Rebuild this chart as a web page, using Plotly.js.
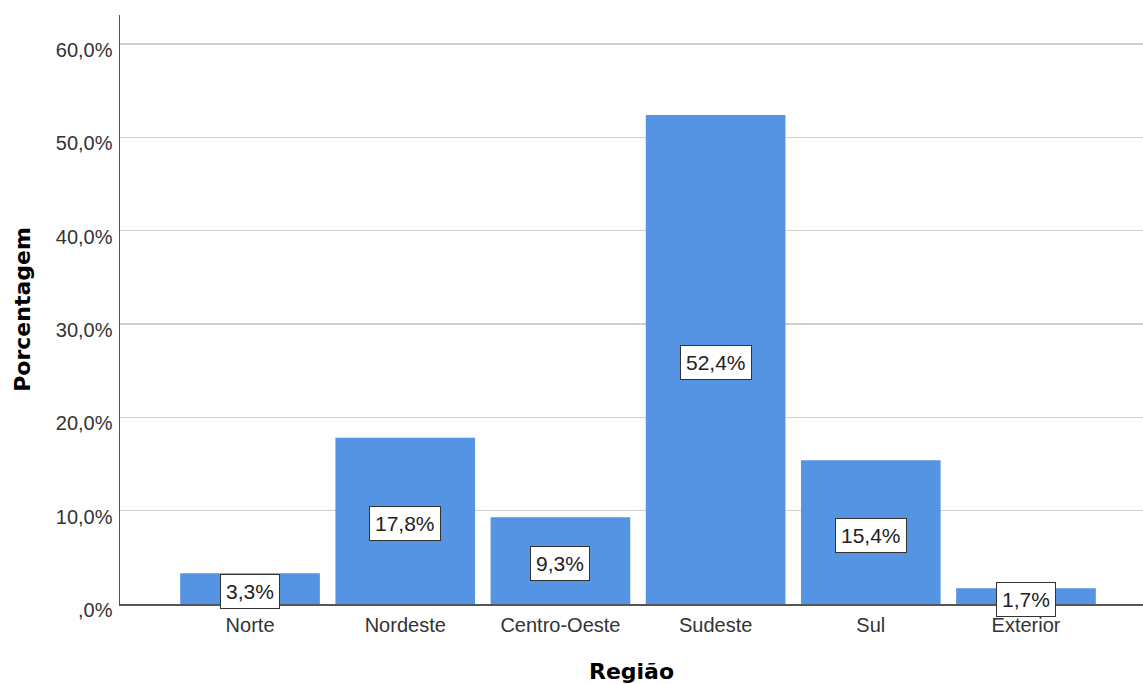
<!DOCTYPE html>
<html>
<head>
<meta charset="utf-8">
<script src="https://cdn.plot.ly/plotly-3.0.1.min.js"></script>
<style>
  html, body { margin: 0; padding: 0; background: #ffffff; }
  #chart { width: 1143px; height: 684px; }
</style>
</head>
<body>
<div id="chart"></div>
<script>
// Distribution of respondents by region (percent)
const regions = ['Norte', 'Nordeste', 'Centro-Oeste', 'Sudeste', 'Sul', 'Exterior'];
const percents = [3.3, 17.8, 9.3, 52.4, 15.4, 1.7];

// Y axis ticks
const yTickValues = [0, 10, 20, 30, 40, 50, 60];
const yTickLabels = [',0%', '10,0%', '20,0%', '30,0%', '40,0%', '50,0%', '60,0%'];

const positions = regions.map((_, i) => i);
const fmtPct = v => v.toFixed(1).replace('.', ',') + '%';

const barTrace = {
  type: 'bar',
  x: positions,
  y: percents,
  width: 0.9,
  marker: { color: '#5594e2', line: { width: 0 } },
  hoverinfo: 'skip'
};

// Boxed value labels centred in each bar
const valueLabels = percents.map((v, i) => ({
  x: i,
  y: v / 2,
  xref: 'x',
  yref: 'y',
  yshift: -3,
  text: fmtPct(v),
  showarrow: false,
  font: { family: 'Liberation Sans, Arial, sans-serif', size: 21, color: '#222222' },
  bgcolor: '#ffffff',
  bordercolor: '#333333',
  borderwidth: 1,
  borderpad: 5
}));

const layout = {
  width: 1143,
  height: 684,
  margin: { l: 120, r: 0, t: 15, b: 80 },
  paper_bgcolor: '#ffffff',
  plot_bgcolor: '#ffffff',
  showlegend: false,
  font: { family: 'Liberation Sans, Arial, sans-serif', color: '#333333' },
  xaxis: {
    range: [-0.838, 5.754],
    tickvals: positions,
    ticktext: regions,
    tickfont: { size: 20, color: '#333333' },
    ticks: '',
    ticklabelstandoff: 2,
    showgrid: false,
    zeroline: false,
    showline: true,
    linecolor: '#555555',
    linewidth: 1.5,
    automargin: false,
    title: {
      text: 'Região',
      font: { family: 'DejaVu Sans, sans-serif', size: 22, color: '#000000', weight: 'bold' },
      standoff: 30
    }
  },
  yaxis: {
    range: [0, 63.1],
    tickvals: yTickValues,
    ticktext: yTickLabels,
    tickfont: { size: 20, color: '#333333' },
    ticks: '',
    ticklabelshift: 6,
    ticklabelstandoff: 2,
    showgrid: true,
    gridcolor: '#d0d0d0',
    gridwidth: 1.5,
    zeroline: false,
    showline: true,
    linecolor: '#555555',
    linewidth: 1.5,
    automargin: false,
    title: {
      text: 'Porcentagem',
      font: { family: 'DejaVu Sans, sans-serif', size: 22, color: '#000000', weight: 'bold' },
      standoff: 19
    }
  },
  annotations: valueLabels
};

Plotly.newPlot('chart', [barTrace], layout, { displayModeBar: false, staticPlot: true });
</script>
</body>
</html>
